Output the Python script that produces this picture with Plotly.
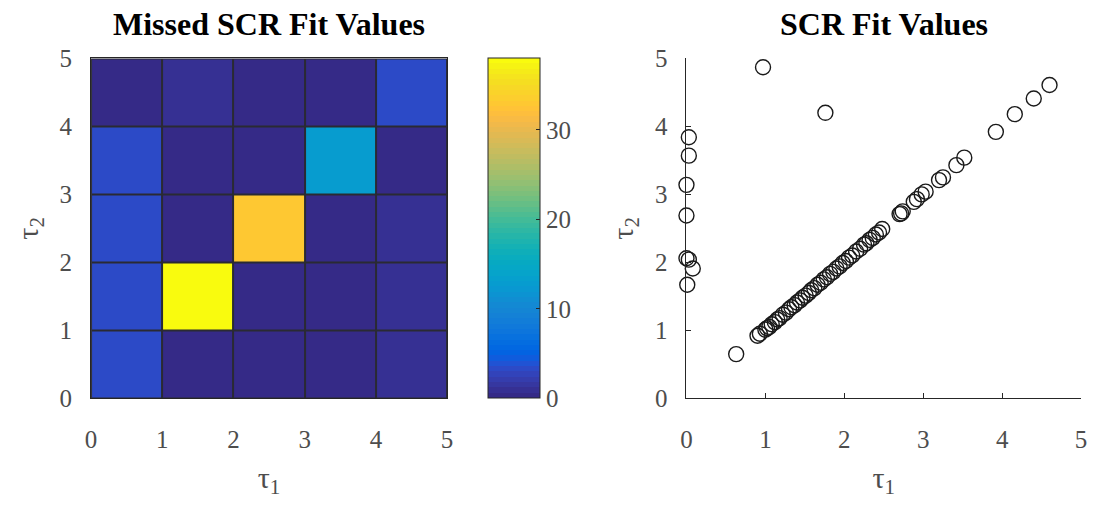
import plotly.graph_objects as go

# ---- data -------------------------------------------------------------
# Missed-fit counts on a 5x5 grid of (tau1, tau2) bins, rows bottom -> top
bin_centers = [0.5, 1.5, 2.5, 3.5, 4.5]
missed_counts = [
    [3, 0, 0, 0, 1],   # tau2 0-1
    [3, 38, 0, 0, 1],  # tau2 1-2
    [3, 0, 33, 0, 1],  # tau2 2-3
    [3, 0, 0, 13, 0],  # tau2 3-4
    [0, 1, 0, 0, 3],   # tau2 4-5
]
colorbar_ticks = [0, 10, 20, 30]

# Fitted (tau1, tau2) pairs
fit_tau1 = [0.97, 1.76, 0.03, 0.03, 0.00, 0.00, 0.00, 0.03, 0.08, 0.01,
            0.63, 0.90, 0.93, 1.00, 1.02, 1.05, 1.08, 1.12, 1.15, 1.18,
            1.22, 1.26, 1.30, 1.33, 1.37, 1.40, 1.44, 1.47, 1.51, 1.55,
            1.58, 1.62, 1.66, 1.70, 1.74, 1.78, 1.82, 1.86, 1.90, 1.94,
            1.98, 2.02, 2.06, 2.10, 2.15, 2.20, 2.25, 2.28, 2.32, 2.36,
            2.40, 2.44, 2.48, 2.70, 2.72, 2.74, 2.88, 2.92, 2.98, 3.03,
            3.20, 3.25, 3.42, 3.52, 3.92, 4.16, 4.40, 4.60]
fit_tau2 = [4.87, 4.20, 3.84, 3.57, 3.14, 2.69, 2.06, 2.04, 1.91, 1.67,
            0.65, 0.92, 0.95, 1.01, 1.03, 1.05, 1.09, 1.12, 1.16, 1.18,
            1.23, 1.26, 1.31, 1.34, 1.37, 1.41, 1.44, 1.48, 1.51, 1.55,
            1.59, 1.62, 1.67, 1.70, 1.75, 1.78, 1.83, 1.86, 1.91, 1.94,
            1.99, 2.02, 2.07, 2.10, 2.16, 2.20, 2.26, 2.28, 2.33, 2.36,
            2.41, 2.44, 2.49, 2.71, 2.72, 2.75, 2.89, 2.93, 3.00, 3.04,
            3.21, 3.25, 3.43, 3.54, 3.92, 4.18, 4.41, 4.61]

axis_ticks = [0, 1, 2, 3, 4, 5]

# ---- styling ----------------------------------------------------------
parula = [
    (0.2081, 0.1663, 0.5292), (0.2116, 0.1898, 0.5777), (0.2123, 0.2138, 0.6270),
    (0.2081, 0.2386, 0.6771), (0.1959, 0.2645, 0.7279), (0.1707, 0.2919, 0.7792),
    (0.1253, 0.3242, 0.8303), (0.0591, 0.3598, 0.8683), (0.0117, 0.3875, 0.8820),
    (0.0060, 0.4086, 0.8828), (0.0165, 0.4266, 0.8786), (0.0329, 0.4430, 0.8720),
    (0.0498, 0.4586, 0.8641), (0.0629, 0.4737, 0.8554), (0.0723, 0.4887, 0.8467),
    (0.0779, 0.5040, 0.8384), (0.0793, 0.5200, 0.8312), (0.0749, 0.5375, 0.8263),
    (0.0641, 0.5570, 0.8240), (0.0488, 0.5772, 0.8228), (0.0343, 0.5966, 0.8199),
    (0.0265, 0.6137, 0.8135), (0.0239, 0.6287, 0.8038), (0.0231, 0.6418, 0.7913),
    (0.0228, 0.6535, 0.7768), (0.0267, 0.6642, 0.7607), (0.0384, 0.6743, 0.7436),
    (0.0590, 0.6838, 0.7254), (0.0843, 0.6928, 0.7062), (0.1133, 0.7015, 0.6859),
    (0.1453, 0.7098, 0.6646), (0.1801, 0.7177, 0.6424), (0.2178, 0.7250, 0.6193),
    (0.2586, 0.7317, 0.5954), (0.3022, 0.7376, 0.5712), (0.3482, 0.7424, 0.5473),
    (0.3953, 0.7459, 0.5244), (0.4420, 0.7481, 0.5033), (0.4871, 0.7491, 0.4840),
    (0.5300, 0.7491, 0.4661), (0.5709, 0.7485, 0.4494), (0.6099, 0.7473, 0.4337),
    (0.6473, 0.7456, 0.4188), (0.6834, 0.7435, 0.4044), (0.7184, 0.7411, 0.3905),
    (0.7525, 0.7384, 0.3768), (0.7858, 0.7356, 0.3633), (0.8185, 0.7327, 0.3498),
    (0.8507, 0.7299, 0.3360), (0.8824, 0.7274, 0.3217), (0.9139, 0.7258, 0.3063),
    (0.9450, 0.7261, 0.2886), (0.9739, 0.7314, 0.2666), (0.9938, 0.7455, 0.2403),
    (0.9990, 0.7653, 0.2164), (0.9955, 0.7861, 0.1967), (0.9880, 0.8066, 0.1794),
    (0.9789, 0.8271, 0.1633), (0.9697, 0.8481, 0.1475), (0.9626, 0.8705, 0.1309),
    (0.9589, 0.8949, 0.1132), (0.9598, 0.9218, 0.0948), (0.9661, 0.9514, 0.0755),
    (0.9763, 0.9831, 0.0538),
]
# stepped colour scale: each of the 64 colours covers an equal band
n = len(parula)
colorscale = []
for i, rgb in enumerate(parula):
    col = "rgb(%d,%d,%d)" % tuple(round(c * 255) for c in rgb)
    colorscale.append([i / n, col])
    colorscale.append([(i + 1) / n if i < n - 1 else 1.0, col])

W, H = 1096, 506
FONT = "Liberation Serif"
TICK_COLOR = "#4d4d4d"
LINE_COLOR = "#262626"
TICK_SIZE = 25


def fx(px):
    return px / W


def fy(py):
    return 1 - py / H


top, bottom = 48, 407
hm_left, hm_right = 86, 446
sc_left, sc_right = 688, 1087

fig = go.Figure()

fig.add_trace(go.Heatmap(
    x=bin_centers, y=bin_centers, z=missed_counts,
    zmin=0, zmax=38, colorscale=colorscale,
    xgap=2, ygap=2,
    xaxis="x", yaxis="y",
    colorbar=dict(
        x=fx(487), xanchor="left", xpad=0, ypad=0,
        y=(fy(bottom) + fy(top)) / 2, yanchor="middle",
        len=(bottom - top) / H, lenmode="fraction",
        thickness=52, thicknessmode="pixels",
        outlinecolor=LINE_COLOR, outlinewidth=1,
        tickvals=colorbar_ticks, ticks="inside", ticklen=4,
        tickcolor=LINE_COLOR,
        tickfont=dict(family=FONT, size=TICK_SIZE, color=TICK_COLOR),
    ),
    hoverinfo="skip",
))

fig.add_trace(go.Scatter(
    x=fit_tau1, y=fit_tau2, mode="markers",
    marker=dict(symbol="circle-open", size=15, color="#1a1a1a",
                line=dict(width=1.4, color="#1a1a1a")),
    xaxis="x2", yaxis="y2", cliponaxis=False, showlegend=False,
))

common_tick = dict(family=FONT, size=TICK_SIZE, color=TICK_COLOR)
title_font = dict(family=FONT, size=30, color=TICK_COLOR)


def axis(domain, title, is_x, boxed, **extra):
    d = dict(
        domain=domain, range=[0, 5], tickvals=axis_ticks,
        showline=True, mirror=boxed, linecolor=LINE_COLOR, linewidth=1,
        showgrid=False, zeroline=False, tickfont=common_tick,
        ticklabelstandoff=19 if is_x else 13,
        title=dict(text=title, font=title_font, standoff=14 if is_x else 12),
    )
    if boxed:
        d["ticks"] = ""
    else:
        d.update(ticks="inside", ticklen=5, tickcolor=LINE_COLOR)
    d.update(extra)
    return d


fig.update_layout(
    width=W, height=H,
    margin=dict(l=0, r=0, t=0, b=0),
    paper_bgcolor="white",
    plot_bgcolor="white",
    showlegend=False,
    xaxis=axis([fx(hm_left), fx(hm_right)], "τ<sub>1</sub>", True, True),
    yaxis=axis([fy(bottom), fy(top)], "τ<sub>2</sub>", False, True),
    xaxis2=axis([fx(sc_left), fx(sc_right)], "τ<sub>1</sub>", True, False,
                anchor="y2"),
    yaxis2=axis([fy(bottom), fy(top)], "τ<sub>2</sub>", False, False,
                anchor="x2"),
    shapes=[
        # dark backing that shows through the gaps between heatmap cells
        dict(type="rect", xref="x domain", yref="y domain",
             x0=0, x1=1, y0=0, y1=1, layer="below",
             fillcolor="#2a2a33", line=dict(width=0)),
    ],
    annotations=[
        dict(text="<b>Missed SCR Fit Values</b>",
             x=(fx(hm_left) + fx(hm_right)) / 2,
             y=fy(12), xref="paper", yref="paper", showarrow=False,
             xanchor="center", yanchor="middle",
             font=dict(family=FONT, size=32, color="black")),
        dict(text="<b>SCR Fit Values</b>",
             x=(fx(sc_left) + fx(sc_right)) / 2,
             y=fy(12), xref="paper", yref="paper", showarrow=False,
             xanchor="center", yanchor="middle",
             font=dict(family=FONT, size=32, color="black")),
    ],
)

fig.write_html("out.html")
